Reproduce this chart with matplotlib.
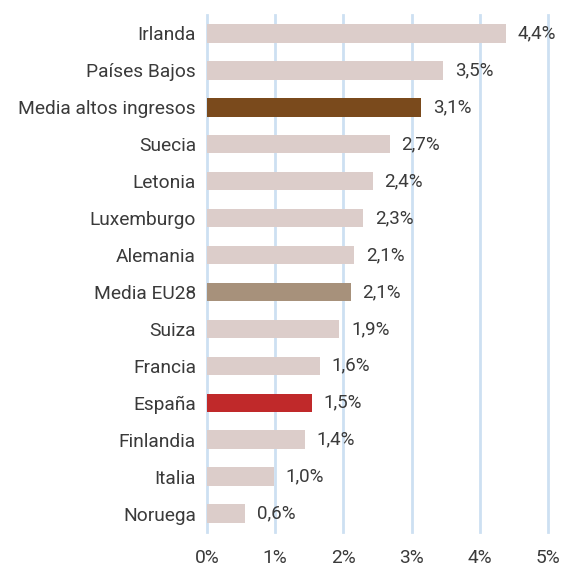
import matplotlib.pyplot as plt

paises = ['Irlanda', 'Países Bajos', 'Media altos ingresos', 'Suecia', 'Letonia',
          'Luxemburgo', 'Alemania', 'Media EU28', 'Suiza', 'Francia', 'España',
          'Finlandia', 'Italia', 'Noruega']
valores = [4.38, 3.46, 3.14, 2.68, 2.43, 2.29, 2.16, 2.11, 1.94, 1.66, 1.54, 1.44, 0.98, 0.56]
etiquetas = ['4,4%', '3,5%', '3,1%', '2,7%', '2,4%', '2,3%', '2,1%', '2,1%', '1,9%',
             '1,6%', '1,5%', '1,4%', '1,0%', '0,6%']
ticks = [0, 1, 2, 3, 4, 5]

colores = {'Media altos ingresos': '#7a4a1c', 'Media EU28': '#a7917b', 'España': '#c0292a'}
base = '#dccdca'

plt.rcParams['font.family'] = ['Roboto', 'DejaVu Sans']

fig = plt.figure(figsize=(5.61, 5.66), dpi=100)
ax = fig.add_axes([0.369, 0.060, 0.608, 0.9135])

y = list(range(len(paises)))
cols = [colores.get(p, base) for p in paises]
ax.barh(y, valores, height=0.5, color=cols, zorder=3)

for yi, v, t in zip(y, valores, etiquetas):
    ax.text(v + 0.17, yi, t, va='center', ha='left', fontsize=13.5,
            color='#3a3a3a', clip_on=False)

ax.set_xlim(0, 5)
ax.set_ylim(len(paises) - 0.5, -0.5)
ax.set_xticks(ticks)
ax.set_xticklabels([f'{t}%' for t in ticks])
ax.set_yticks(y)
ax.set_yticklabels(paises)
ax.tick_params(axis='both', length=0, labelsize=13.8, labelcolor='#3a3a3a')
ax.tick_params(axis='x', pad=12)
ax.tick_params(axis='y', pad=8)
ax.grid(axis='x', color='#cde0f2', linewidth=2, zorder=0)
for gl in ax.get_xgridlines():
    gl.set_clip_on(False)
for s in ax.spines.values():
    s.set_visible(False)

fig.savefig('out.png', dpi=100)
